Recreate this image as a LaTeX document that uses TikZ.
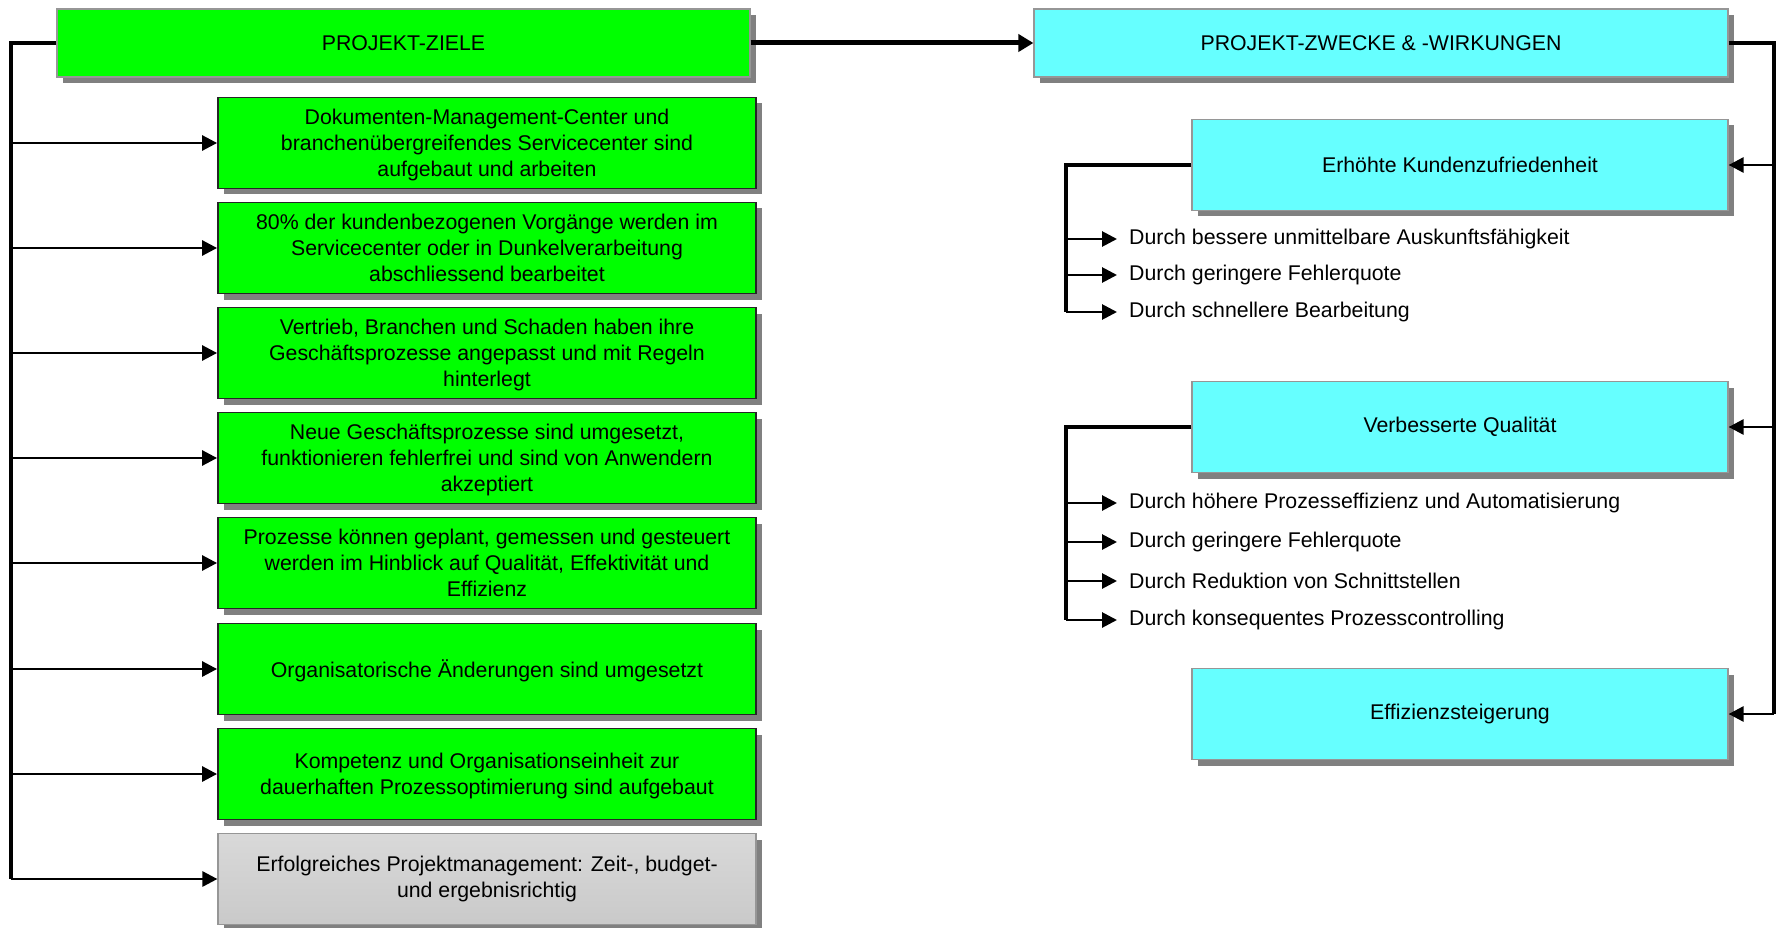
\documentclass[tikz,border=0pt]{standalone}
\usepackage{fontspec}
\setmainfont{Liberation Sans}
\usetikzlibrary{shadows,arrows.meta}
\definecolor{boxgreen}{RGB}{0,255,0}
\definecolor{boxcyan}{RGB}{102,255,255}
\definecolor{shadowgray}{RGB}{128,128,128}
\definecolor{edgegray}{RGB}{150,150,150}
\begin{document}
\begin{tikzpicture}[x=1pt,y=-1pt,
  every node/.style={font=\fontsize{21.3}{26}\selectfont, align=center},
  boxbase/.style={rectangle, inner sep=0pt, drop shadow={shadow xshift=6pt, shadow yshift=-6pt, fill=shadowgray, opacity=1}},
  greenbox/.style={boxbase, fill=boxgreen, draw=black!85, line width=1.8pt, minimum width=538pt, minimum height=91pt, text depth=-4pt},
  topgreen/.style={boxbase, fill=boxgreen, draw=edgegray, line width=1.2pt, minimum width=693pt, minimum height=68pt},
  cyanbox/.style={boxbase, fill=boxcyan, draw=edgegray, line width=1.2pt, minimum width=536pt, minimum height=91pt},
  topcyan/.style={boxbase, fill=boxcyan, draw=edgegray, line width=1.2pt, minimum width=694pt, minimum height=68pt},
  graybox/.style={boxbase, top color=gray!30, middle color=gray!6, bottom color=gray!42, draw=edgegray, line width=1.2pt, minimum width=538pt, minimum height=91pt},
  item/.style={anchor=west, inner sep=0pt, align=left},
  trunk/.style={line width=3.5pt},
  arr/.style={line width=2.8pt, -{Triangle[length=15pt,width=15pt]}},
  subarr/.style={arr, shorten >=12pt},
  bigarr/.style={line width=5pt, -{Triangle[length=15pt,width=17pt]}}
]
\useasboundingbox (0,0) rectangle (1777,928);

% left column
\node[topgreen] (ziele) at (403.5,43) {PROJEKT-ZIELE};
\node[greenbox] (g1) at (487,143) {Dokumenten-Management-Center und\\branchenübergreifendes Servicecenter sind\\aufgebaut und arbeiten};
\node[greenbox] (g2) at (487,248) {80\% der kundenbezogenen Vorgänge werden im\\Servicecenter oder in Dunkelverarbeitung\\abschliessend bearbeitet};
\node[greenbox] (g3) at (487,353) {Vertrieb, Branchen und Schaden haben ihre\\Geschäftsprozesse angepasst und mit Regeln\\hinterlegt};
\node[greenbox] (g4) at (487,458) {Neue Geschäftsprozesse sind umgesetzt,\\funktionieren fehlerfrei und sind von Anwendern\\akzeptiert};
\node[greenbox] (g5) at (487,563) {Prozesse können geplant, gemessen und gesteuert\\werden im Hinblick auf Qualität, Effektivität und\\Effizienz};
\node[greenbox] (g6) at (487,669) {Organisatorische Änderungen sind umgesetzt};
\node[greenbox] (g7) at (487,774) {Kompetenz und Organisationseinheit zur\\dauerhaften Prozessoptimierung sind aufgebaut};
\node[graybox] (g8) at (487,879) {Erfolgreiches Projektmanagement: Zeit-, budget-\\und ergebnisrichtig};

\coordinate (lt) at (11,43);
\draw[trunk] (ziele.west) -- (lt) -- (lt |- g8);
\foreach \n in {g1,g2,g3,g4,g5,g6,g7,g8}{
  \draw[arr] (lt |- \n) -- (\n.west);
}

% right column
\node[topcyan] (zweck) at (1381,43) {PROJEKT-ZWECKE \& -WIRKUNGEN};
\node[cyanbox] (c1) at (1460,165) {Erhöhte Kundenzufriedenheit};
\node[cyanbox] (c2) at (1460,427) {Verbesserte Qualität};
\node[cyanbox] (c3) at (1460,714) {Effizienzsteigerung};

\draw[bigarr] (ziele.east) -- (zweck.west);

\coordinate (rt) at (1774,43);
\draw[trunk] (zweck.east) -- (rt) -- (rt |- c3);
\foreach \n in {c1,c2,c3}{
  \draw[arr] (rt |- \n) -- (\n.east);
}

% sub items
\node[item] (a1) at (1129,239) {Durch bessere unmittelbare Auskunftsfähigkeit};
\node[item] (a2) at (1129,275) {Durch geringere Fehlerquote};
\node[item] (a3) at (1129,312) {Durch schnellere Bearbeitung};

\node[item] (b1) at (1129,503) {Durch höhere Prozesseffizienz und Automatisierung};
\node[item] (b2) at (1129,542) {Durch geringere Fehlerquote};
\node[item] (b3) at (1129,581) {Durch Reduktion von Schnittstellen};
\node[item] (b4) at (1129,620) {Durch konsequentes Prozesscontrolling};

\coordinate (k1) at (1066,165);
\draw[trunk] (c1.west) -- (k1) -- (k1 |- a3);
\foreach \n in {a1,a2,a3}{
  \draw[subarr] (k1 |- \n) -- (\n.west);
}
\coordinate (k2) at (1066,427);
\draw[trunk] (c2.west) -- (k2) -- (k2 |- b4);
\foreach \n in {b1,b2,b3,b4}{
  \draw[subarr] (k2 |- \n) -- (\n.west);
}
\end{tikzpicture}
\end{document}
